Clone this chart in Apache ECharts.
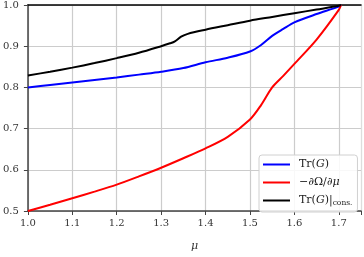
<!DOCTYPE html>
<html><head><meta charset="utf-8">
<script src="https://cdn.jsdelivr.net/npm/echarts@6/dist/echarts.min.js"></script>
<style>html,body{margin:0;padding:0;background:#fff}#c{width:364px;height:257px}</style>
</head><body><div id="c"></div>
<script>
var xTicks = [1.0, 1.1, 1.2, 1.3, 1.4, 1.5, 1.6, 1.7];
var yTicks = [0.5, 0.6, 0.7, 0.8, 0.9, 1.0];
var seriesNames = ['Tr(G)', '-dOmega/dmu', 'Tr(G)|cons.'];

var muBlue = [1.0, 1.05, 1.1, 1.15, 1.2, 1.25, 1.3, 1.35, 1.4, 1.45, 1.5, 1.525, 1.55, 1.575, 1.6, 1.65, 1.7, 1.705];
var trG    = [0.800, 0.806, 0.812, 0.818, 0.824, 0.831, 0.838, 0.847, 0.861, 0.872, 0.887, 0.903, 0.925, 0.942, 0.958, 0.978, 0.996, 1.0];

var muRed  = [1.0, 1.05, 1.1, 1.15, 1.2, 1.25, 1.3, 1.35, 1.4, 1.45, 1.5, 1.525, 1.55, 1.575, 1.6, 1.65, 1.7, 1.705];
var dOmega = [0.500, 0.515, 0.531, 0.547, 0.564, 0.584, 0.605, 0.628, 0.652, 0.680, 0.722, 0.757, 0.800, 0.828, 0.857, 0.916, 0.988, 1.0];

var muBlack = [1.0, 1.05, 1.1, 1.15, 1.2, 1.25, 1.3, 1.32, 1.33, 1.345, 1.36, 1.4, 1.45, 1.5, 1.55, 1.6, 1.65, 1.7, 1.705];
var trGcons = [0.829, 0.838, 0.848, 0.859, 0.871, 0.884, 0.900, 0.907, 0.911, 0.923, 0.930, 0.940, 0.951, 0.962, 0.971, 0.980, 0.989, 0.998, 1.0];

function pairs(xs, ys){ return xs.map(function(x,i){return [x, ys[i]];}); }

var FONT = 'DejaVu Serif';
var chart = echarts.init(document.getElementById('c'));
var axisCol = '#444';
chart.setOption({
  animation: false,
  grid: {left: 25, top: 4, right: 2, bottom: 38},
  xAxis: [{
    type: 'value', min: 1.0, max: 1.75, interval: 0.1,
    name: 'μ', nameLocation: 'middle', nameGap: 30,
    nameTextStyle: {fontFamily: FONT, fontStyle: 'italic', fontSize: 11, color: '#333'},
    axisLine: {show: true, onZero: false, lineStyle: {color: axisCol, width: 1.5}},
    axisTick: {show: true, length: 4, lineStyle: {color: axisCol}},
    axisLabel: {fontFamily: FONT, fontSize: 10, color: '#333', margin: 7,
      formatter: function(v){ return xTicks.indexOf(Math.round(v*10)/10) >= 0 ? v.toFixed(1) : ''; }},
    splitLine: {show: true, lineStyle: {color: '#cccccc', width: 1.2}}
  }, {
    type: 'value', min: 1.0, max: 1.75, position: 'top',
    axisLine: {show: true, lineStyle: {color: '#000', width: 1.5}},
    axisTick: {show: false}, axisLabel: {show: false}, splitLine: {show: false}
  }],
  yAxis: [{
    type: 'value', min: 0.5, max: 1.0, interval: 0.1,
    axisLine: {show: true, onZero: false, lineStyle: {color: axisCol, width: 1.5}},
    axisTick: {show: true, length: 4, lineStyle: {color: axisCol}},
    axisLabel: {fontFamily: FONT, fontSize: 10, color: '#333', margin: 9,
      formatter: function(v){ return v.toFixed(1); }},
    splitLine: {show: true, lineStyle: {color: '#cccccc', width: 1.2}}
  }, {
    type: 'value', min: 0.5, max: 1.0, position: 'right',
    axisLine: {show: true, lineStyle: {color: '#ddd', width: 1}},
    axisTick: {show: false}, axisLabel: {show: false}, splitLine: {show: false}
  }],
  legend: {
    left: 259, top: 155, orient: 'vertical',
    padding: [3, 5, 5, 4], itemGap: 5,
    itemWidth: 27, itemHeight: 2, icon: 'rect',
    borderColor: '#d0d0d0', borderWidth: 1, borderRadius: 3,
    backgroundColor: 'rgba(255,255,255,0.85)',
    data: seriesNames,
    textStyle: {fontFamily: FONT, fontSize: 11, color: '#222', padding: [0,0,0,4], lineHeight: 13,
      rich: {
        n: {fontFamily: FONT, fontSize: 11, color: '#222', lineHeight: 13},
        i: {fontFamily: FONT, fontSize: 11, fontStyle: 'italic', color: '#222', lineHeight: 13},
        s: {fontFamily: FONT, fontSize: 7.5, color: '#222', lineHeight: 13, verticalAlign: 'bottom', padding: [5,0,0,0]}
      }},
    formatter: function(name){
      if (name === seriesNames[0]) return '{n|Tr(}{i|G}{n|)}';
      if (name === seriesNames[1]) return '{n|−∂Ω/∂}{i|μ}';
      return '{n|Tr(}{i|G}{n|)|}{s|cons.}';
    }
  },
  series: [
    {name: seriesNames[0], type: 'line', smooth: 0.3, symbol: 'none', data: pairs(muBlue, trG),
     itemStyle: {color: '#0000ff'}, lineStyle: {color: '#0000ff', width: 2}},
    {name: seriesNames[1], type: 'line', smooth: 0.3, symbol: 'none', data: pairs(muRed, dOmega),
     itemStyle: {color: '#ff0000'}, lineStyle: {color: '#ff0000', width: 2}},
    {name: seriesNames[2], type: 'line', smooth: 0.3, symbol: 'none', data: pairs(muBlack, trGcons),
     itemStyle: {color: '#000000'}, lineStyle: {color: '#000000', width: 2}}
  ]
});
</script></body></html>
